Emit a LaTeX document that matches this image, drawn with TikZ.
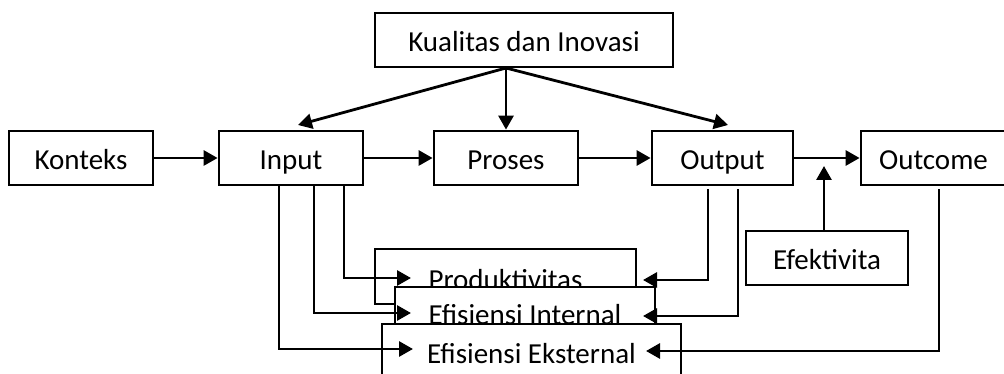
\documentclass[tikz,border=0pt]{standalone}
\usepackage{fontspec}
\setmainfont{Carlito}
\usetikzlibrary{arrows.meta}
\begin{document}
\begin{tikzpicture}[x=1pt,y=-1pt,
  box/.style={draw=black, line width=2.8pt, fill=white, inner sep=0pt,
    font=\fontsize{29}{34}\selectfont, minimum height=54pt,
    text height=23pt, text depth=0pt},
  plainbox/.style={draw=black, line width=2.8pt, fill=white, inner sep=0pt},
  lbl/.style={inner sep=0pt, font=\fontsize{29}{34}\selectfont, anchor=base},
  arr/.style={line width=2.8pt, -{Triangle[length=14pt,width=15pt]}}]
\useasboundingbox (0,0) rectangle (1004,374);
% top row
\node[box, minimum width=298pt] (kual) at (524,40) {Kualitas dan Inovasi};
\node[box, minimum width=144pt] (konteks) at (81,158) {Konteks};
\node[box, minimum width=144pt] (input) at (291,158) {Input};
\node[box, minimum width=144pt] (proses) at (506,158) {Proses};
\node[box, minimum width=141pt] (output) at (722.5,158) {Output};
\node[box, minimum width=145pt] (outcome) at (933.5,158) {Outcome};
\node[box, minimum width=162pt] (efek) at (827,258) {Efektivita};
% stacked boxes
\node[plainbox, minimum width=261pt, minimum height=55pt] (prodbox) at (505.5,276.5) {};
\node[lbl] (prodtxt) at (505.5,289) {Produktivitas};
\node[plainbox, minimum width=260pt, minimum height=53pt] (intbox) at (525,313.5) {};
\node[lbl] (inttxt) at (525,324.5) {Efisiensi Internal};
\node[plainbox, minimum width=299pt, minimum height=76pt] (extbox) at (531.5,362) {};
\node[lbl] (exttxt) at (531.5,363) {Efisiensi Eksternal};
% free ends
\coordinate (kualsrc) at (506,68);
\coordinate (inTip) at (298,125);
\coordinate (outTip) at (728,125);
\coordinate (efTip) at (824,166);
\coordinate (pL) at (411,278);
\coordinate (iL) at (411,313);
\coordinate (eL) at (413,349);
\coordinate (pR) at (643,280);
\coordinate (iR) at (643,316);
\coordinate (eR) at (646,351);
% main flow
\draw[arr] (konteks.east) -- (input.west);
\draw[arr] (input.east) -- (proses.west);
\draw[arr] (proses.east) -- (output.west);
\draw[arr] (output.east) -- (outcome.west);
\draw[arr] (kualsrc) -- (inTip);
\draw[arr] (kualsrc) -- (proses.north);
\draw[arr] (kualsrc) -- (outTip);
\draw[arr] ([xshift=-3pt]efek.north) -- (efTip);
% input branches
\draw[arr] ([xshift=53pt]input.south) |- (pL);
\draw[arr] ([xshift=23pt]input.south) |- (iL);
\draw[arr] ([xshift=-12pt]input.south) |- (eL);
% output / outcome branches
\draw[arr] ([xshift=-14.5pt,yshift=-3pt]output.south) |- (pR);
\draw[arr] ([xshift=15.5pt,yshift=-3pt]output.south) |- (iR);
\draw[arr] ([xshift=5.5pt,yshift=-3pt]outcome.south) |- (eR);
\end{tikzpicture}
\end{document}
